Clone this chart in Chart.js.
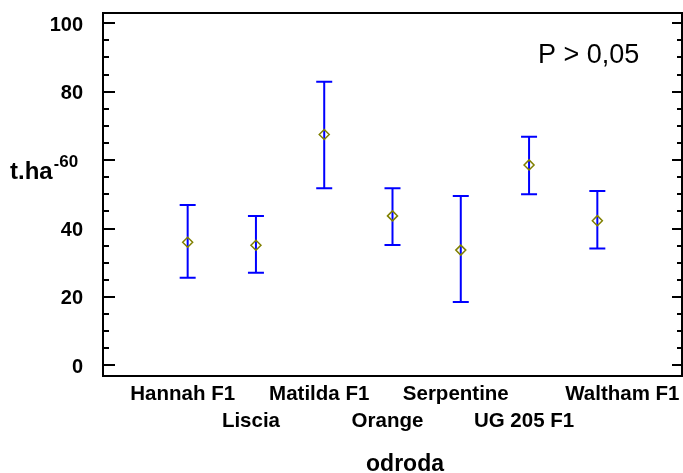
<!DOCTYPE html>
<html>
<head>
<meta charset="utf-8">
<script src="https://cdn.jsdelivr.net/npm/chart.js@4"></script>
<style>
  html, body { margin: 0; padding: 0; background: #fff; }
  #wrap { width: 683px; height: 473px; }
</style>
</head>
<body>
<div id="wrap"><canvas id="chart" width="683" height="473"></canvas></div>
<script>
// data
const CATEGORIES = ['Hannah F1', 'Liscia', 'Matilda F1', 'Orange', 'Serpentine', 'UG 205 F1', 'Waltham F1'];
const MEANS = [36.0, 35.1, 67.5, 43.7, 33.7, 58.6, 42.3];
const UPPER = [46.9, 43.7, 82.9, 51.8, 49.5, 66.8, 51.0];
const LOWER = [25.6, 27.1, 51.8, 35.2, 18.5, 50.0, 34.2];
const Y_TICKS = [0, 20, 40, 60, 80, 100];
const Y_MINOR_STEP = 5;

const FONT = 'Arial, "Liberation Sans", sans-serif';
// the tick label that collides with the unit's superscript in the original
const SMALL_TICK = 60;

// error bars, frame, inner tick marks and free texts
const decorations = {
  id: 'decorations',
  beforeDatasetsDraw(chart) {
    const ctx = chart.ctx;
    const x = chart.scales.x, y = chart.scales.y;
    ctx.save();
    ctx.strokeStyle = '#0000ff';
    ctx.lineWidth = 2;
    CATEGORIES.forEach((c, i) => {
      const px = x.getPixelForValue(i);
      const lo = y.getPixelForValue(LOWER[i]);
      const hi = y.getPixelForValue(UPPER[i]);
      ctx.beginPath();
      ctx.moveTo(px, lo); ctx.lineTo(px, hi);
      ctx.moveTo(px - 8, lo); ctx.lineTo(px + 8, lo);
      ctx.moveTo(px - 8, hi); ctx.lineTo(px + 8, hi);
      ctx.stroke();
    });
    ctx.restore();
  },
  afterDraw(chart) {
    const ctx = chart.ctx;
    const a = chart.chartArea;
    const y = chart.scales.y;
    ctx.save();
    ctx.strokeStyle = '#000';
    ctx.lineWidth = 2;
    ctx.strokeRect(a.left, a.top, a.right - a.left, a.bottom - a.top);

    // tick marks pointing into the plot, on both sides
    ctx.beginPath();
    for (let v = Y_TICKS[0]; v <= Y_TICKS[Y_TICKS.length - 1]; v += Y_MINOR_STEP) {
      const py = Math.round(y.getPixelForValue(v));
      const major = Y_TICKS.includes(v);
      ctx.moveTo(a.left, py); ctx.lineTo(a.left + (major ? 12 : 6), py);
      ctx.moveTo(a.right, py); ctx.lineTo(a.right - (major ? 10 : 5), py);
    }
    ctx.stroke();

    // axis titles
    ctx.fillStyle = '#000';
    ctx.textBaseline = 'alphabetic';
    ctx.textAlign = 'left';
    ctx.font = 'bold 24px ' + FONT;
    ctx.fillText('t.ha', 10, 179);
    const w = ctx.measureText('t.ha').width;
    ctx.font = 'bold 16px ' + FONT;
    ctx.fillText('-', 10 + w + 1, 169);

    ctx.textAlign = 'center';
    ctx.font = 'bold 23px ' + FONT;
    ctx.fillText('odroda', 405, 471);

    ctx.textAlign = 'left';
    ctx.font = '27px ' + FONT;
    ctx.fillText('P > 0,05', 538, 63);
    ctx.restore();
  }
};

new Chart(document.getElementById('chart').getContext('2d'), {
  type: 'scatter',
  data: {
    datasets: [
      {
        label: 'mean',
        data: MEANS.map((m, i) => ({ x: i, y: m })),
        pointStyle: 'rectRot',
        pointRadius: 5,
        pointHoverRadius: 5,
        borderColor: '#808000',
        backgroundColor: 'rgba(0,0,0,0)',
        borderWidth: 1.5,
      },
    ],
  },
  options: {
    responsive: false,
    animation: false,
    layout: { autoPadding: false, padding: { top: 13, right: 1, left: 0, bottom: 0 } },
    scales: {
      x: {
        type: 'linear',
        min: -1.24,
        max: 7.24,
        grid: { display: false, drawTicks: false },
        border: { display: false },
        afterBuildTicks: (s) => {
          // last label sits flush with the right edge, like in the original
          s.ticks = CATEGORIES.map((c, i) => ({ value: i === CATEGORIES.length - 1 ? i + 0.44 : i }));
        },
        afterFit: (s) => {
          s.height = 97;
          s.paddingLeft = 0; s.paddingRight = 0;
        },
        ticks: {
          autoSkip: false,
          maxRotation: 0,
          minRotation: 0,
          padding: 5,
          labelOffset: -5,
          color: '#000',
          font: { family: FONT, size: 20.5, weight: 'bold', lineHeight: 1.3 },
          callback: (v, i) => (i % 2 === 0 ? [CATEGORIES[i], ''] : ['', CATEGORIES[i]]),
        },
      },
      y: {
        min: -3.1,
        max: 103,
        grid: { display: false, drawTicks: false },
        border: { display: false },
        afterBuildTicks: (s) => { s.ticks = Y_TICKS.map((v) => ({ value: v })); },
        afterFit: (s) => {
          s.width = 103;
          s.paddingTop = 0; s.paddingBottom = 0;
        },
        ticks: {
          padding: 20,
          labelOffset: 2,
          color: '#000',
          callback: (v) => (v === SMALL_TICK ? v + ' ' : String(v)),
          font: (c) => ({ family: FONT, weight: 'bold', size: c.tick && c.tick.value === SMALL_TICK ? 17 : 20 }),
        },
      },
    },
    plugins: { legend: { display: false }, tooltip: { enabled: false } },
  },
  plugins: [decorations],
});
</script>
</body>
</html>
